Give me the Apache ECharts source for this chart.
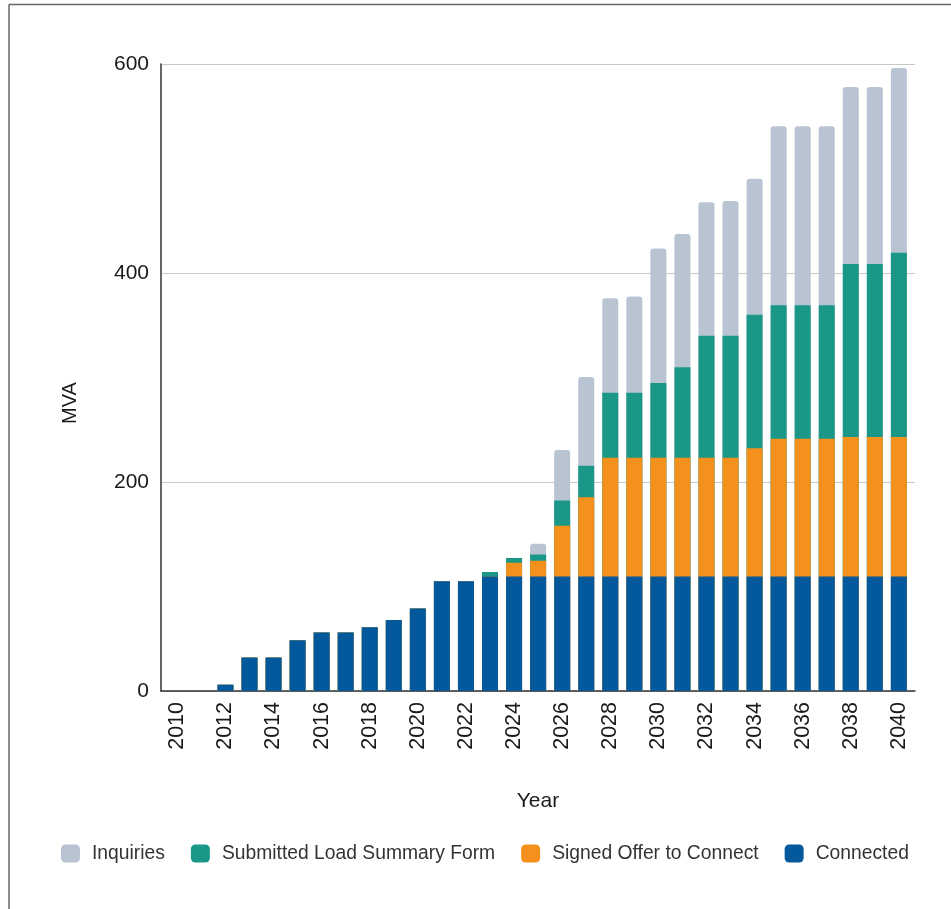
<!DOCTYPE html>
<html>
<head>
<meta charset="utf-8">
<script src="https://cdn.jsdelivr.net/npm/echarts@6/dist/echarts.min.js"></script>
<style>
  html, body { margin: 0; padding: 0; background: #ffffff; }
  #chart { width: 951px; height: 909px; }
</style>
</head>
<body>
<div id="chart"></div>
<script>
// ---- Data (MVA per year, stacked segments) ----
const years = [2010,2011,2012,2013,2014,2015,2016,2017,2018,2019,2020,2021,2022,2023,2024,2025,2026,2027,2028,2029,2030,2031,2032,2033,2034,2035,2036,2037,2038,2039,2040];
const yearTickLabels = [2010,2012,2014,2016,2018,2020,2022,2024,2026,2028,2030,2032,2034,2036,2038,2040];
const yTicks = [0, 200, 400, 600];

const connected = [0,0,6,32,32,48.5,56,56,61,68,79,105,105,109.5,109.5,109.5,109.5,109.5,109.5,109.5,109.5,109.5,109.5,109.5,109.5,109.5,109.5,109.5,109.5,109.5,109.5];
const signedOffer = [0,0,0,0,0,0,0,0,0,0,0,0,0,0,13.3,15.2,48.7,76,113.8,113.8,113.8,113.8,113.8,113.8,122.7,132,132,132,133.5,133.5,133.5];
const submittedLSF = [0,0,0,0,0,0,0,0,0,0,0,0,0,4.4,4.5,6,24.2,30,62,62,71.4,86.4,116.7,116.7,127.8,127.6,127.6,127.6,165.6,165.6,176.4];
const inquiries = [0,0,0,0,0,0,0,0,0,0,0,0,0,0,0,10.3,48.2,85,90.6,92.2,128.8,127.6,127.6,128.9,130.2,171.3,171.3,171.3,169.4,169.4,176.8];

const seriesNames = ['Inquiries', 'Submitted Load Summary Form', 'Signed Offer to Connect', 'Connected'];
const colors = ['#b9c4d3', '#1b9787', '#f4911c', '#03599c'];

// cumulative tops (stack built from the segment arrays)
const segs = [connected, signedOffer, submittedLSF, inquiries];
const cum = segs.map(() => []);
years.forEach((y, i) => {
  let s = 0;
  segs.forEach((arr, k) => { s += arr[i]; cum[k].push(+s.toFixed(2)); });
});
// cum[0]=connected top, cum[1]=signed top, cum[2]=submitted top, cum[3]=total
const layers = [cum[3], cum[2], cum[1], cum[0]]; // drawn back to front

const chart = echarts.init(document.getElementById('chart'), null, { renderer: 'canvas' });

const series = seriesNames.map((name, k) => ({
  name: name,
  type: 'bar',
  barWidth: 16,
  barGap: '-100%',
  z: 2 + k,
  itemStyle: {
    color: colors[k],
    borderRadius: k === 0 ? [3, 3, 0, 0] : 0
  },
  emphasis: { disabled: true },
  data: years.map((y, i) => [y, layers[k][i]])
}));

const FONT = 'Liberation Sans, Arial, sans-serif';

const option = {
  animation: false,
  backgroundColor: '#ffffff',
  textStyle: { fontFamily: FONT },
  grid: { left: 161, right: 36, top: 64, bottom: 218, containLabel: false },
  legend: {
    data: seriesNames,
    left: 61,
    top: 844,
    padding: 0,
    itemWidth: 19,
    itemHeight: 18,
    itemGap: 26,
    icon: 'roundRect',
    textStyle: { fontSize: 19.3, color: '#333333', padding: [0, 0, 0, 7], fontFamily: FONT }
  },
  xAxis: {
    type: 'value',
    min: 2009.32,
    max: 2040.67,
    name: 'Year',
    nameLocation: 'middle',
    nameGap: 100,
    nameTextStyle: { fontSize: 21, color: '#1a1a1a' },
    splitLine: { show: false },
    axisTick: { show: false },
    axisLine: { show: true, lineStyle: { color: '#333333', width: 1.5 } },
    axisLabel: {
      customValues: yearTickLabels,
      rotate: 90,
      fontSize: 21.5,
      margin: 11,
      color: '#1a1a1a',
      formatter: v => String(v)
    }
  },
  yAxis: {
    type: 'value',
    min: 0,
    max: 600,
    interval: 200,
    axisLine: { show: true, lineStyle: { color: '#333333', width: 1.5 } },
    axisTick: { show: false },
    axisLabel: { fontSize: 21, margin: 12, color: '#1a1a1a', customValues: yTicks },
    splitLine: { lineStyle: { color: '#c8c8c8', width: 1 } }
  },
  graphic: [
    { type: 'line', shape: { x1: 9, y1: 4.5, x2: 951, y2: 4.5 }, style: { stroke: '#666666', lineWidth: 1.5 }, silent: true },
    { type: 'line', shape: { x1: 9, y1: 4.5, x2: 9, y2: 909 }, style: { stroke: '#666666', lineWidth: 1.5 }, silent: true },
    {
      type: 'text', x: 70, y: 403, rotation: Math.PI / 2, silent: true,
      style: { text: 'MVA', fontSize: 20, fill: '#1a1a1a', fontFamily: FONT, align: 'center', verticalAlign: 'middle' }
    }
  ],
  series: series
};

chart.setOption(option);
</script>
</body>
</html>
